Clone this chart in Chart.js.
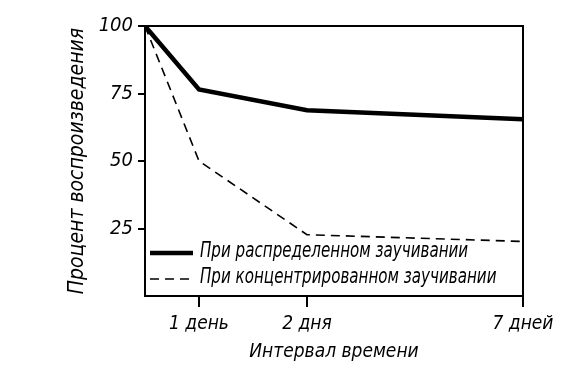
<!DOCTYPE html>
<html>
<head>
<meta charset="utf-8">
<script src="https://cdn.jsdelivr.net/npm/chart.js@4"></script>
<style>
  html, body { margin: 0; padding: 0; background: #fff; }
  #wrap { width: 583px; height: 388px; }
</style>
</head>
<body>
<div id="wrap"><canvas id="chart"></canvas></div>
<script>
// Данные (положение по оси X схематичное: 0, 1 день, 2 дня, 7 дней)
const xPositions = [0, 1, 3, 7];
const xTickLabels = { 1: "1 день", 3: "2 дня", 7: "7 дней" };
const yTicks = [25, 50, 75, 100];
const distributed = [100, 76.5, 68.8, 65.5];   // распределенное заучивание
const concentrated = [100, 50, 22.7, 20.2];    // концентрированное заучивание
const seriesLabels = ["При распределенном заучивании", "При концентрированном заучивании"];

const FONT = "'Liberation Sans Narrow', 'DejaVu Sans Condensed', sans-serif";

function toPoints(vals) {
  return vals.map((v, i) => ({ x: xPositions[i], y: v }));
}

// рамка + легенда внутри поля графика
const framePlugin = {
  id: "frame",
  afterDraw(chart) {
    const { ctx, chartArea: a } = chart;
    ctx.save();
    ctx.strokeStyle = "#000";
    ctx.lineWidth = 2;
    ctx.strokeRect(a.left, a.top, a.right - a.left, a.bottom - a.top);

    const rows = [253, 279];
    chart.data.datasets.forEach((ds, i) => {
      const y = rows[i];
      ctx.beginPath();
      ctx.lineWidth = ds.borderWidth;
      ctx.setLineDash(ds.borderDash || []);
      ctx.moveTo(150, y);
      ctx.lineTo(193, y);
      ctx.stroke();
      ctx.setLineDash([]);
      // узкий высокий шрифт, как в оригинале
      ctx.save();
      ctx.translate(200, y - 1);
      ctx.scale(0.8, 1);
      ctx.fillStyle = "#000";
      ctx.font = "italic 21px " + FONT;
      ctx.textBaseline = "middle";
      ctx.fillText(ds.label, 0, 0);
      ctx.restore();
    });
    ctx.restore();
  },
};

new Chart(document.getElementById("chart"), {
  type: "line",
  data: {
    datasets: [
      {
        label: seriesLabels[0],
        data: toPoints(distributed),
        borderColor: "#000",
        borderWidth: 4.5,
        pointRadius: 0,
        tension: 0,
      },
      {
        label: seriesLabels[1],
        data: toPoints(concentrated),
        borderColor: "#000",
        borderWidth: 1.6,
        borderDash: [9, 6],
        pointRadius: 0,
        tension: 0,
      },
    ],
  },
  options: {
    responsive: true,
    maintainAspectRatio: false,
    animation: false,
    layout: { padding: { top: 26, right: 60, left: 0, bottom: 0 } },
    plugins: { legend: { display: false }, tooltip: { enabled: false } },
    scales: {
      x: {
        type: "linear",
        min: 0,
        max: 7,
        afterBuildTicks: s => { s.ticks = Object.keys(xTickLabels).map(k => ({ value: +k })); },
        afterFit: s => { s.height = 92; },
        grid: { drawOnChartArea: false, drawTicks: true, tickLength: 11, color: "#000", lineWidth: 2 },
        border: { display: true, color: "#000", width: 2 },
        ticks: {
          color: "#000",
          padding: 6,
          maxRotation: 0,
          font: { family: FONT, size: 19, style: "italic" },
          callback: v => xTickLabels[v] || "",
        },
        title: {
          display: true,
          text: "Интервал времени",
          color: "#000",
          font: { family: FONT, size: 19, style: "italic" },
          padding: { top: 0, bottom: 25 },
        },
      },
      y: {
        min: 0,
        max: 100,
        afterBuildTicks: s => { s.ticks = yTicks.map(v => ({ value: v })); },
        afterFit: s => { s.width = 145; },
        grid: { drawOnChartArea: false, drawTicks: true, tickLength: 7, color: "#000", lineWidth: 2 },
        border: { display: true, color: "#000", width: 2 },
        ticks: {
          color: "#000",
          padding: 5,
          font: { family: FONT, size: 20, style: "italic" },
        },
        title: {
          display: true,
          text: "Процент воспроизведения",
          color: "#000",
          font: { family: FONT, size: 21, style: "italic" },
          padding: { top: 65, bottom: 0 },
        },
      },
    },
  },
  plugins: [framePlugin],
});
</script>
</body>
</html>
